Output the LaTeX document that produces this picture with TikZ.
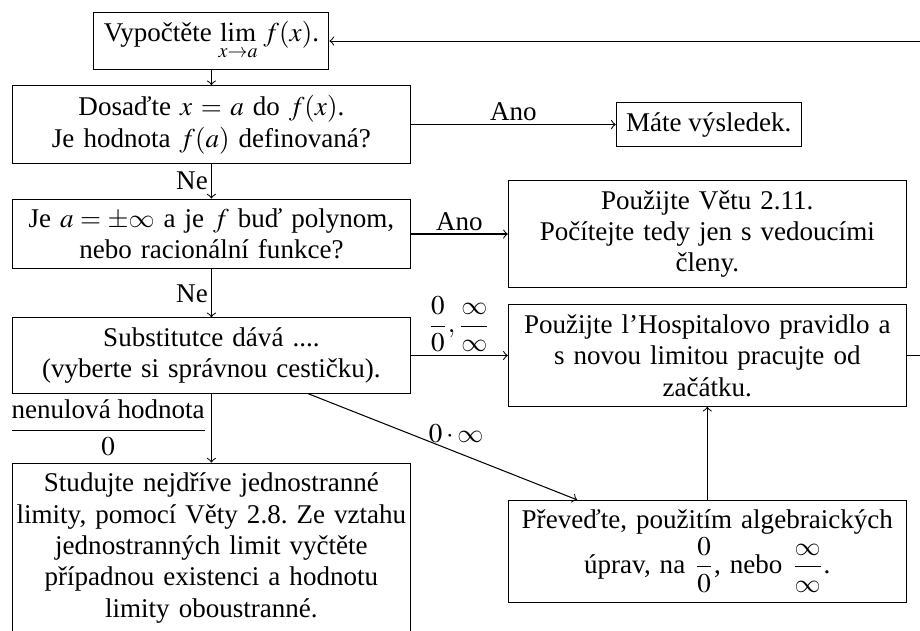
\documentclass[tikz,border=0pt]{standalone}
\usepackage{amsmath}
\usepackage{mathptmx}
\DeclareSymbolFont{cmsymbols}{OMS}{cmsy}{m}{n}
\DeclareMathSymbol{\infty}{\mathord}{cmsymbols}{"31}
\usepackage{fontspec}
\setmainfont{Liberation Serif}
\usetikzlibrary{positioning}

\begin{document}
\begin{tikzpicture}[node distance=7pt, font=\fontsize{10.4pt}{12.1pt}\selectfont\frenchspacing,
	box/.style={draw, rectangle, align=center, inner xsep=3.8pt, inner ysep=3.7pt},
	widebox/.style={box, inner xsep=1.5pt, text width=150pt},
	tag/.style={inner sep=1.2pt}]
	\node[box, inner ysep=3.4pt] (lim) {Vypočtěte $\lim\limits_{x\to a}\, f(x)$.};
	\node[widebox, below=5.8pt of lim] (dosad) {Dosaďte $x=a$ do $f(x)$.\\ Je hodnota $f(a)$ definovaná?};
	\node[box, right=78.8pt of dosad] (vysledek) {Máte výsledek.};
	\node[widebox, below=13.3pt of dosad] (polynom) {Je $a=\pm\infty$ a je $f$ buď polynom,\\ nebo racionální funkce?};
	\node[widebox, right=37.3pt of polynom] (veta) {Použijte Větu 2.11.\\ Počítejte tedy jen s vedoucími\\ členy.};
	\node[widebox, below=18.4pt of polynom] (subst) {Substitutce dává ....\\ (vyberte si správnou cestičku).};
	\node[widebox, right=37.3pt of subst] (hospital) {Použijte l’Hospitalovo pravidlo a\\ s novou limitou pracujte od\\ začátku.};
	\node[widebox, below=35.8pt of hospital] (prevod) {Převeďte, použitím algebraických\\ úprav, na $\dfrac{0}{0}$, nebo $\dfrac{\infty}{\infty}$.};
	\node[widebox, below=26.5pt of subst] (jednostr) {Studujte nejdříve jednostranné\\ limity, pomocí Věty 2.8. Ze vztahu\\ jednostranných limit vyčtěte\\ případnou existenci a hodnotu\\ limity oboustranné.};
	% spojnice
	\draw[->] (lim) -- (dosad);
	\draw[->] (dosad) -- node[above, tag] {Ano} (vysledek);
	\draw[->] (dosad) -- node[left, tag] {Ne} (polynom);
	\draw[->] (polynom) -- node[above, tag] {Ano} (veta);
	\draw[->] (polynom) -- node[left, tag] {Ne} (subst);
	\draw[->] (subst) -- node[above, tag] {$\dfrac{0}{0}, \dfrac{\infty}{\infty}$} (hospital);
	\draw[->] (subst) -- node[pos=0.55, above] {$0\cdot\infty$} (prevod);
	\draw[->] (subst) -- node[left, tag] {$\dfrac{\text{nenulová hodnota}}{0}$} (jednostr);
	\draw[->] (prevod) -- (hospital);
	\draw[->] (hospital.east) -- ++(12pt,0) |- (lim.east);
	% vyrez
	\path (dosad.west |- lim.north) ++(-4.6pt,4.6pt) coordinate (nw);
	\pgfresetboundingbox
	\useasboundingbox (nw) rectangle ++(353.8pt,-242.3pt);
\end{tikzpicture}
\end{document}
